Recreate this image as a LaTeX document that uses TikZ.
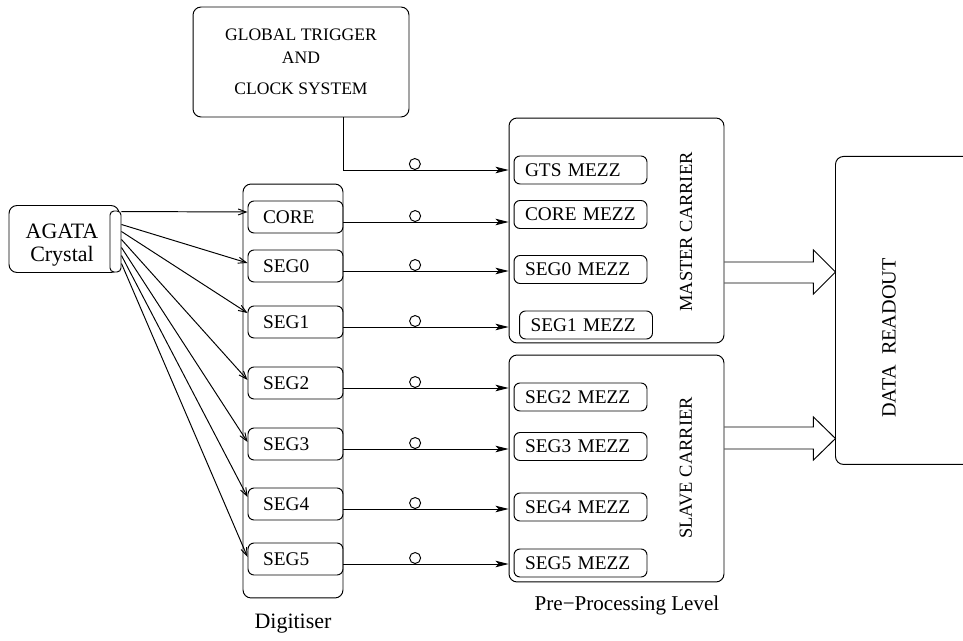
\documentclass[tikz,border=0pt]{standalone}
\usepackage{fontspec}
\setmainfont{Liberation Serif}
\usetikzlibrary{arrows.meta}

\begin{document}
\begin{tikzpicture}
[x=0.02cm, y=-0.02cm, line width=0.55pt,
 box/.style={draw, rounded corners=0.16cm},
 chan/.style={draw, rounded corners=0.12cm, font=\fontsize{11}{13}\selectfont, align=left,
              text width=1.3cm, inner xsep=0.3cm, inner ysep=0pt, minimum height=0.64cm},
 mezz/.style={chan, text width=2.22cm, inner xsep=0.22cm, minimum height=0.56cm},
 ring/.style={draw, circle, inner sep=0pt, minimum size=0.22cm, anchor=south},
 sig/.style={-{Stealth[length=0.26cm, width=0.13cm, inset=0.06cm]}},
 feed/.style={-{Straight Barb[length=0.16cm, width=0.12cm]}}]
\clip (0,0) rectangle (963,641);
\node[box, minimum width=4.32cm, minimum height=2.2cm, align=center,
      font=\fontsize{10}{13}\selectfont] (gts) at (301,62)
      {GLOBAL TRIGGER\\AND\\[5pt]CLOCK SYSTEM};
\node[box, minimum width=2.2cm, minimum height=1.34cm] (agata) at (64,239) {};
\node[align=center, font=\fontsize{12.5}{13}\selectfont] (agatalab) at (62,245) {AGATA\\Crystal};
\node[draw, fill=white, rounded corners=0.08cm, inner sep=0pt,
      minimum width=0.22cm, minimum height=1.22cm] (xout) at (115.5,241.5) {};
% digitiser
\node[box, minimum width=2cm, minimum height=8.28cm] (dig) at (293,391) {};
\node[font=\fontsize{12.5}{14}\selectfont] (diglab) at (293,624) {Digitiser};
\foreach \n/\t/\y in {core/CORE/217, s0/SEG0/266, s1/SEG1/322, s2/SEG2/383,
                      s3/SEG3/444, s4/SEG4/504, s5/SEG5/559}
  \node[chan] (d\n) at (295.5,\y) {\t};
% carriers
\node[box, minimum width=4.3cm, minimum height=4.5cm] (mc) at (616.5,230.5) {};
\node[box, minimum width=4.3cm, minimum height=4.54cm] (sc) at (616.5,468.5) {};
\node[rotate=90, font=\fontsize{10.5}{12}\selectfont] (mclab) at (686,232) {MASTER CARRIER};
\node[rotate=90, font=\fontsize{10.5}{12}\selectfont] (sclab) at (686,468) {SLAVE CARRIER};
\node[font=\fontsize{12}{14}\selectfont] (pplab) at (627,605) {Pre−Processing Level};
\foreach \n/\t/\x/\y in {gts/GTS/580.5/170, core/CORE/580.5/214.5, s0/SEG0/580.5/269.5,
                         s1/SEG1/586/325, s2/SEG2/580.5/397, s3/SEG3/580.5/446.5,
                         s4/SEG4/580.5/507, s5/SEG5/580.5/563}
  \node[mezz] (m\n) at (\x,\y) {\t{} MEZZ};
% readout
\node[box, anchor=north west, minimum width=4cm, minimum height=6.16cm] (dr) at (835,156) {};
\node[rotate=90, font=\fontsize{11.5}{14}\selectfont] (drlab) at (889,338) {DATA\hspace{6pt}READOUT};
% signals
\draw[sig] ([xshift=0.84cm]gts.south) |- (mgts.west -| mc.west) node[ring, pos=0.717] {};
\foreach \n in {core,s0,s1,s2,s3,s4,s5}
  \draw[sig] ([yshift=-0.1cm]d\n.east) -- ([yshift=-0.1cm]d\n.east -| mc.west)
    node[ring, pos=0.434] {};
\foreach \n/\s/\e in {core/0.02/0.1, s0/0.28/0.06, s1/0.42/0.18, s2/0.58/0.06,
                      s3/0.74/0.04, s4/0.9/0.14, s5/1.06/0.04}
  \draw[feed] ([yshift=-\s cm]xout.north east) -- ([yshift=\e cm]d\n.west);
\draw ([yshift=-0.63cm]mc.east) -- ++(89,0) -- ++(0,-12) -- ++(22,22) -- ++(-22,22)
  -- ++(0,-11) -- ++(-89,0);
\draw ([yshift=0.83cm]sc.east) -- ++(89,0) -- ++(0,-10) -- ++(22,21.5) -- ++(-22,21.5)
  -- ++(0,-11) -- ++(-89,0);
\end{tikzpicture}
\end{document}
